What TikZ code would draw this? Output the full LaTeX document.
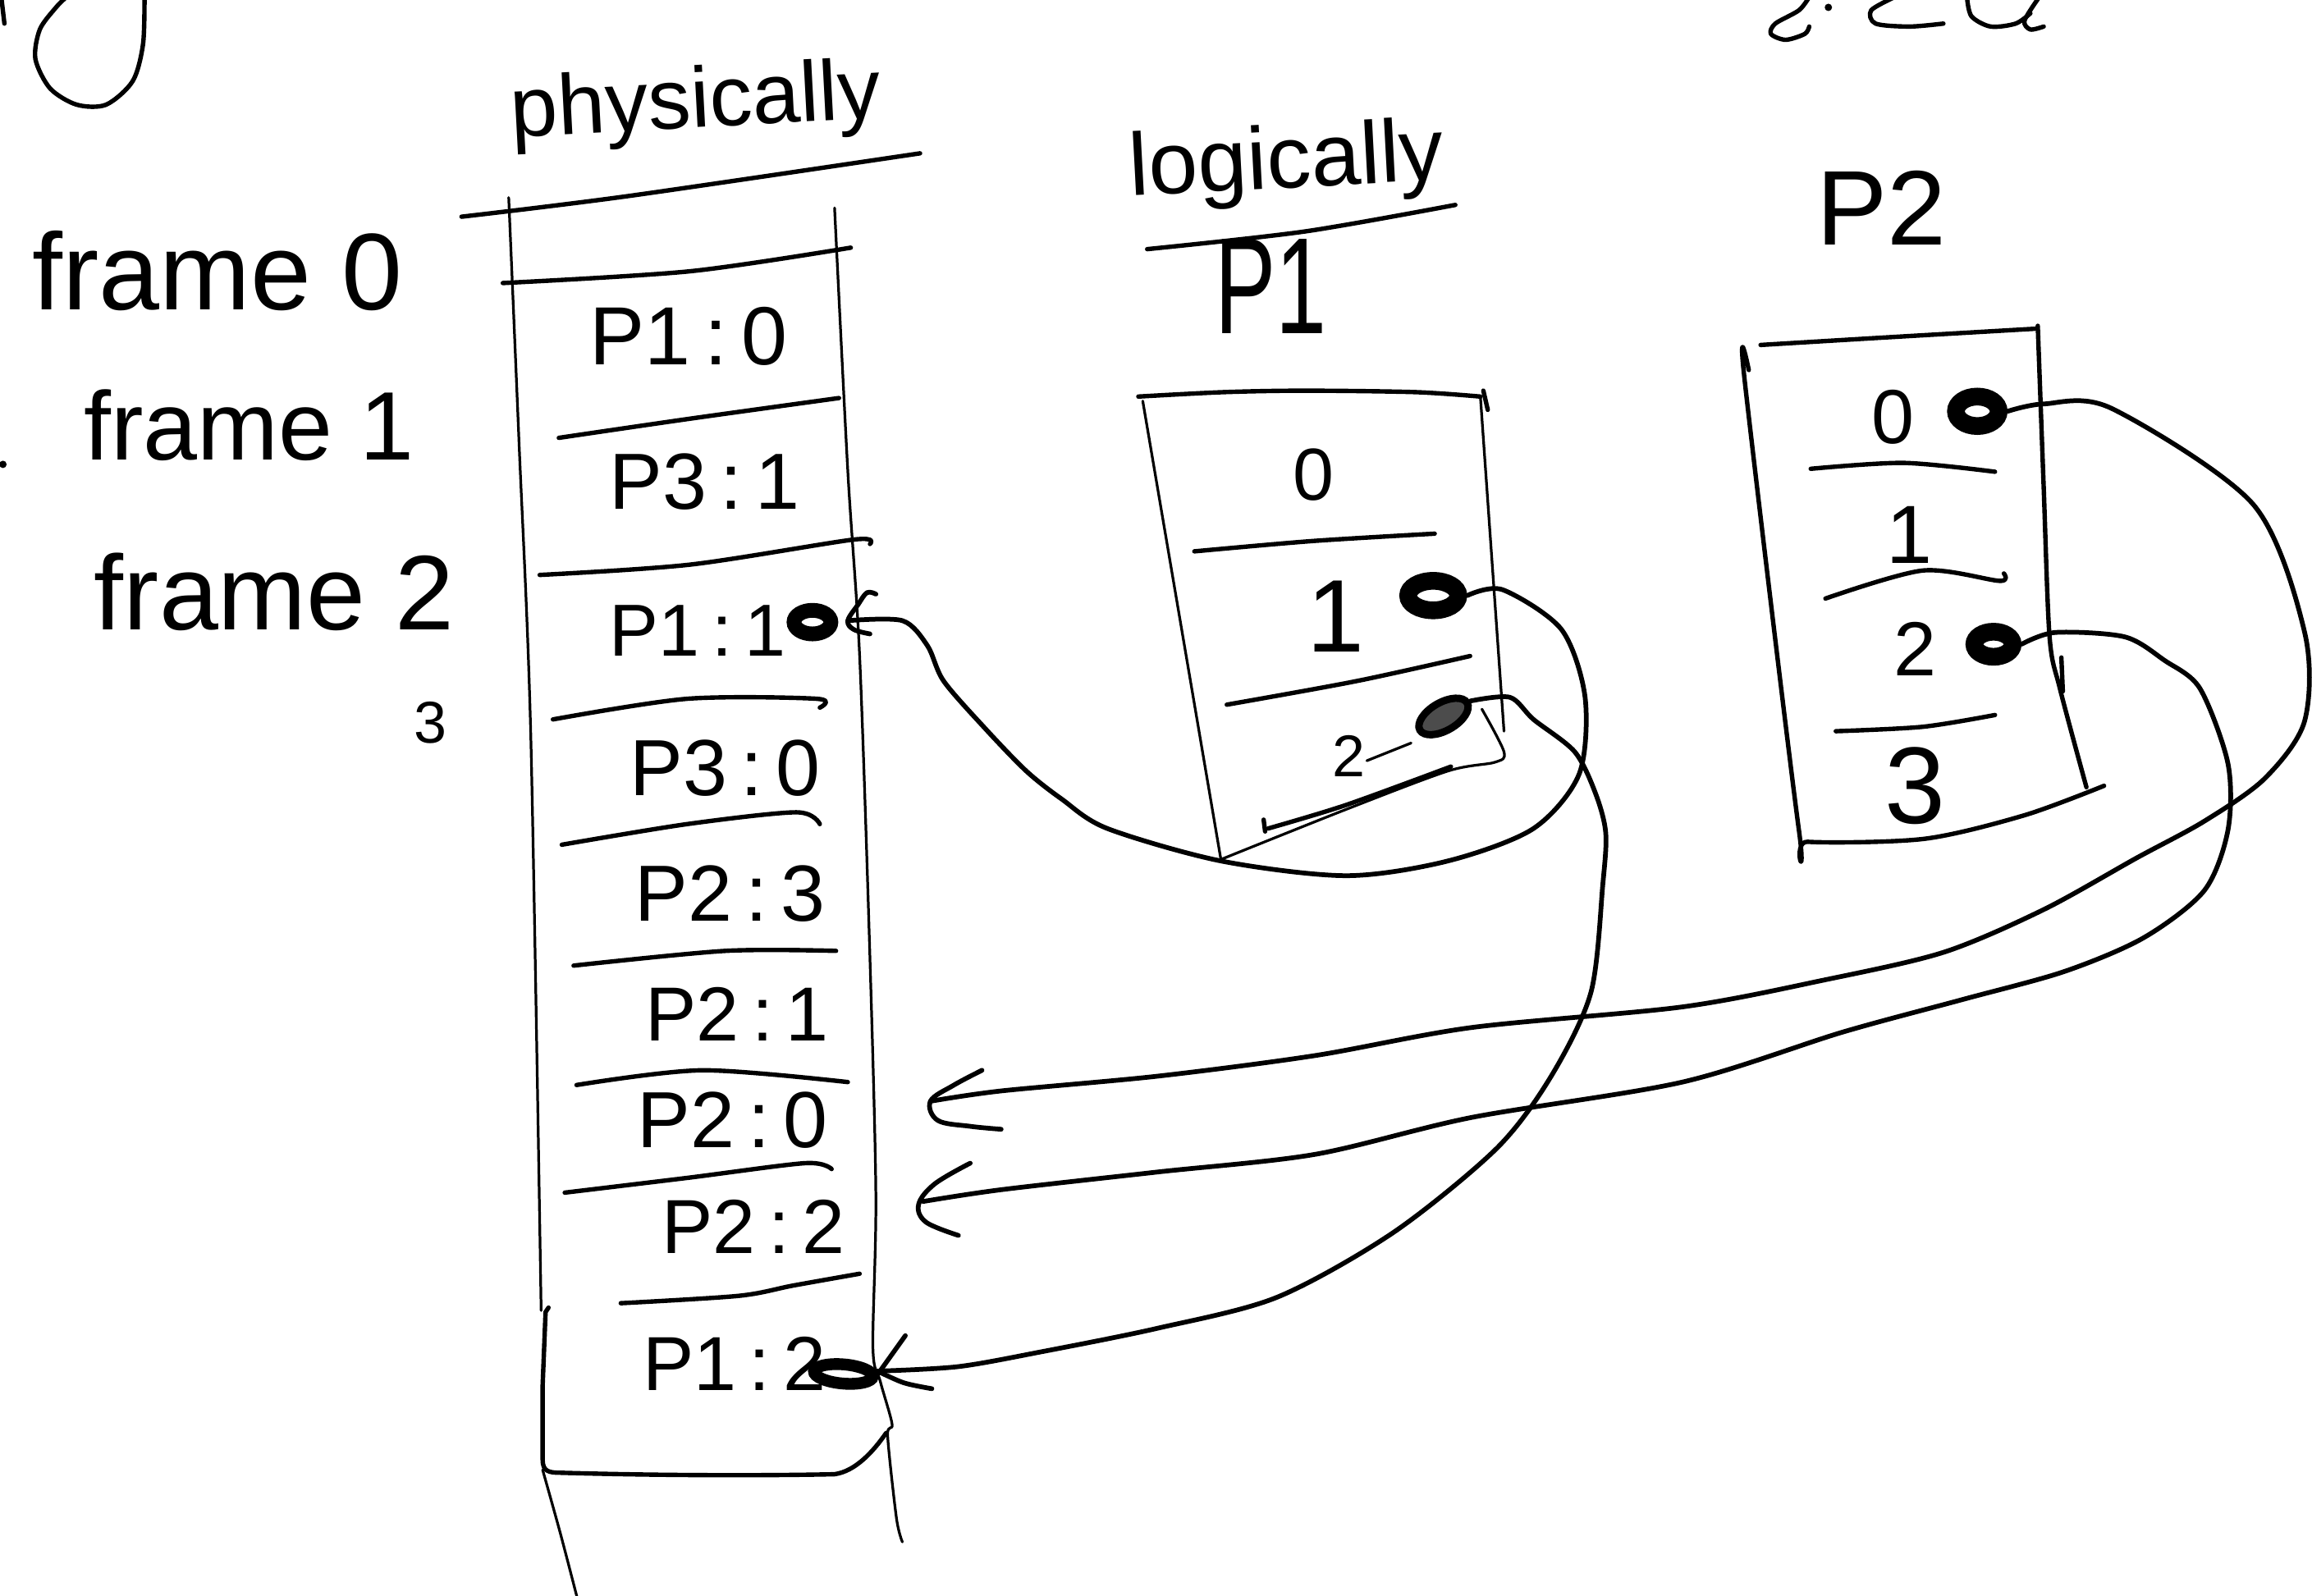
\documentclass[tikz,border=0pt]{standalone}
\usepackage{fontspec}
\setmainfont{Liberation Sans}
\usetikzlibrary{shapes.geometric,calc}
\newcommand\hsz[1]{\fontsize{#1}{#1}\selectfont}
\begin{document}
\begin{tikzpicture}[x=0.5pt,y=-0.5pt,
  pen/.style={line width=1.5pt,line cap=round,line join=round},
  thinpen/.style={line width=0.9pt,line cap=round,line join=round},
  conn/.style={line width=1.6pt,line cap=round,line join=round},
  hand/.style={inner sep=0pt,outer sep=0pt},
  ring/.style={ellipse,draw,fill=white,inner sep=0pt,line width=4pt},
  hatched/.style={ellipse,draw,fill=black!70,inner sep=0pt,line width=2.5pt}]
\useasboundingbox (0,0) rectangle (1568,1082.6);

% ---- scraps of writing at the top edge
\draw[pen] plot[smooth] coordinates {(98,-2) (97,30) (90,55) (72,71) (52,71) (34,60) (24,40) (27,20) (38,5) (45,-2)};
\draw[pen] (1,-1) -- (3,16);
\fill (2,315) circle (2.5);
\draw[pen] plot[smooth] coordinates {(1227,-2) (1220,7) (1204,16) (1201,23) (1211,27) (1224,23) (1227,18)};
\fill (1240,5) circle (2.5);
\draw[pen] plot[smooth] coordinates {(1285,-2) (1269,7) (1272,16) (1295,18) (1318,16)};
\draw[pen] plot[smooth] coordinates {(1334,-2) (1337,11) (1350,18) (1367,16) (1377,9)};
\draw[pen] plot[smooth] coordinates {(1383,-2) (1373,14) (1377,20) (1386,18)};

% ---- frame labels
\node[hand,anchor=base west,font=\hsz{37}] (f0) at (22,210) {frame 0};
\node[hand,anchor=base west,font=\hsz{33}] (f1) at (57,312) {frame 1};
\node[hand,anchor=base west,font=\hsz{36}] (f2) at (64,427) {frame 2};
\node[hand,font=\hsz{20}] (f3) at (292,490) {3};

% ---- headings
\node[hand,anchor=base west,rotate=3,font=\hsz{29}] (phys) at (347,93) {physically};
\node[hand,anchor=base west,rotate=3,font=\hsz{30}] (logi) at (767,133) {logically};
\draw[pen] plot[smooth] coordinates {(778,169) (885,157) (987,139)};
\node[hand,font=\hsz{31}] (p1head) at (862,194) {\scalebox{1}[1.5]{P1}};
\node[hand,font=\hsz{36}] (p2head) at (1276,141) {P2};

% ---- physical memory column
\draw[pen] plot[smooth] coordinates {(313,147) (426,133) (624,104)};
\draw[thinpen] plot[smooth] coordinates {(345,134) (352,300) (360,500) (367,889)};
\draw[thinpen] plot[smooth] coordinates {(368,997) (380,1040) (392,1086)};
\draw[thinpen] plot[smooth] coordinates {(566,141) (575,320) (583,445) (590,650) (594,811) (592,914) (597,937) (605,966) (602,974) (608,1030) (612,1046)};
\draw[pen] plot[smooth] coordinates {(341,192) (468,184) (577,168)};
\draw[pen] plot[smooth] coordinates {(379,297) (468,284) (569,270)};
\draw[pen] plot[smooth] coordinates {(366,390) (468,383) (579,366) (590,369)};
\draw[pen] plot[smooth] coordinates {(375,488) (466,474) (554,474) (556,480)};
\draw[pen] plot[smooth] coordinates {(381,573) (466,559) (540,551) (556,559)};
\draw[pen] plot[smooth] coordinates {(389,655) (492,645) (567,645)};
\draw[pen] plot[smooth] coordinates {(391,736) (476,726) (575,734)};
\draw[pen] plot[smooth] coordinates {(383,809) (466,799) (546,789) (564,793)};
\draw[pen] plot[smooth] coordinates {(421,884) (501,879) (538,872) (583,864)};
\draw[pen] (372,887) -- (370,890) -- (368,940) -- (368,990)
  .. controls (368,998) and (372,999) .. (380,999)
  .. controls (450,1001) and (520,1001) .. (566,1000)
  .. controls (580,998) and (592,985) .. (601,972);

\node[hand,font=\hsz{28}] (m0) at (467,228) {P1\,:\,0};
\node[hand,font=\hsz{27}] (m1) at (478,327) {P3\,:\,1};
\node[hand,font=\hsz{25}] (m2) at (473,428) {P1\,:\,1};
\node[hand,font=\hsz{27}] (m3) at (492,521) {P3\,:\,0};
\node[hand,font=\hsz{27}] (m4) at (495,606) {P2\,:\,3};
\node[hand,font=\hsz{26}] (m5) at (500,688) {P2\,:\,1};
\node[hand,font=\hsz{27}] (m6) at (497,760) {P2\,:\,0};
\node[hand,font=\hsz{26}] (m7) at (511,832) {P2\,:\,2};
\node[hand,font=\hsz{26}] (m8) at (498,925) {P1\,:\,2};

\node[ring,line width=5pt,minimum width=12.5pt,minimum height=8pt] (dE) at (551,422) {};
\node[ring,line width=4pt,minimum width=20pt,minimum height=6.5pt,rotate=-5] (dF) at (572,932) {};

% ---- page table of P1
\draw[pen] plot[smooth] coordinates {(772,269) (830,266) (885,265) (960,266) (1004,269)};
\draw[pen] (1006,265) -- (1009,278);
\draw[thinpen] (775,272) -- (828,583);
\draw[thinpen] (1004,269) -- (1020,496);
\draw[pen] plot[smooth] coordinates {(810,374) (890,367) (973,362)};
\draw[pen] plot[smooth] coordinates {(832,478) (920,462) (997,445)};
\draw[thinpen] plot[smooth] coordinates {(828,583) (913,549) (982,523) (1014,517) (1020,510) (1005,481)};
\draw[pen] plot[smooth] coordinates {(984,520) (913,546) (860,562)};
\draw[pen] (857,556) -- (858,564);
\draw[thinpen] (927,516) -- (957,504);
\node[hand,font=\hsz{25}] (a0) at (891,322) {0};
\node[hand,font=\hsz{35}] (a1) at (906,418) {1};
\node[hand,font=\hsz{20}] (a2) at (915,513) {2};
\node[ring,line width=6pt,minimum width=17pt,minimum height=10pt] (dA) at (972,404) {};
\node[hatched,minimum width=18.5pt,minimum height=9.5pt,rotate=30] (dB) at (979,486) {};

% ---- page table of P2
\draw[pen] plot[smooth] coordinates {(1194,234) (1277,229) (1380,223)};
\draw[pen] plot[smooth] coordinates {(1382,221) (1386,330) (1390,432) (1397,467) (1415,534)};
\draw[pen] (1398,446) -- (1399,469);
\draw[pen] plot[smooth] coordinates {(1427,533) (1373,553) (1305,569) (1226,571) (1220,563) (1183,256) (1186,251)};
\draw[pen] plot[smooth] coordinates {(1228,318) (1291,314) (1353,320)};
\draw[pen] plot[smooth] coordinates {(1238,406) (1304,387) (1356,394) (1359,389)};
\draw[pen] plot[smooth] coordinates {(1245,496) (1304,493) (1353,485)};
\node[hand,font=\hsz{26}] (b0) at (1284,283) {0};
\node[hand,font=\hsz{28}] (b1) at (1295,363) {1};
\node[hand,font=\hsz{26}] (b2) at (1299,440) {2};
\node[hand,font=\hsz{37}] (b3) at (1299,533) {3};
\node[ring,line width=6pt,minimum width=14.5pt,minimum height=10pt] (dC) at (1341,279) {};
\node[ring,line width=6pt,minimum width=13pt,minimum height=8.5pt] (dD) at (1352,437) {};

% ---- arrow ends
\coordinate (t11) at (575,421);
\coordinate (t12) at (597,930);
\coordinate (t20) at (631,747);
\coordinate (t22) at (626,815);

% ---- mappings
\draw[conn] plot[smooth,tension=0.5] coordinates {(dA.east) (1019,400) (1059,427) (1075,473) (1071,525) (1040,562) (982,584) (913,594) (828,584) (751,562) (720,542) (696,523) (668,494) (640,462) (629,438) (612,421) (t11)};
\draw[conn] plot[smooth,tension=0.5] coordinates {(dB.east) (1024,473) (1040,488) (1068,510) (1082,538) (1089,565) (1087,600) (1079,673) (1052,730) (1015,779) (945,836) (866,880) (785,901) (706,917) (650,927) (t12)};
\draw[conn] plot[smooth,tension=0.5] coordinates {(dC.east) (1386,274) (1432,277) (1528,342) (1563,429) (1563,489) (1536,528) (1495,557) (1449,582) (1386,617) (1318,646) (1236,665) (1141,683) (998,697) (892,716) (785,730) (679,740) (t20)};
\draw[conn] plot[smooth,tension=0.5] coordinates {(dD.east) (1394,429) (1441,432) (1468,448) (1492,467) (1511,518) (1511,563) (1495,604) (1454,636) (1400,659) (1331,678) (1250,700) (1141,734) (998,758) (892,783) (785,795) (679,807) (t22)};

% ---- hand-drawn arrow heads
\draw[conn] plot[smooth,tension=0.6] coordinates {($(t11)+(19,-18)$) ($(t11)+(13,-19)$) ($(t11)+(7,-11)$) (t11) ($(t11)+(4,6)$) ($(t11)+(15,9)$)};
\draw[conn] ($(t12)+(17,-24)$) -- ($(t12)+(-3,4)$);
\draw[conn] plot[smooth] coordinates {($(t12)+(-2,0)$) ($(t12)+(16,8)$) ($(t12)+(35,12)$)};
\draw[conn] plot[smooth,tension=0.6] coordinates {($(t20)+(35,-21)$) ($(t20)+(16,-11)$) (t20) ($(t20)+(5,13)$) ($(t20)+(27,17)$) ($(t20)+(48,19)$)};
\draw[conn] plot[smooth,tension=0.6] coordinates {($(t22)+(32,-26)$) ($(t22)+(8,-12)$) ($(t22)+(-3,2)$) ($(t22)+(2,14)$) ($(t22)+(24,23)$)};
\end{tikzpicture}
\end{document}
